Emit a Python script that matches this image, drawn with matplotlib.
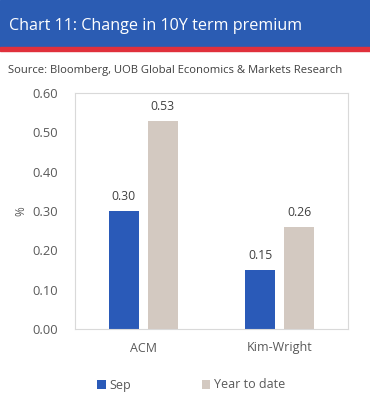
import matplotlib
matplotlib.use("Agg")
import matplotlib.pyplot as plt
from matplotlib.patches import Rectangle
import numpy as np

categories = ["ACM", "Kim-Wright"]
series_names = ["Sep", "Year to date"]
sep_values = [0.30, 0.15]
ytd_values = [0.53, 0.26]
yticks = [0.0, 0.1, 0.2, 0.3, 0.4, 0.5, 0.6]

plt.rcParams['font.family'] = ['Open Sans', 'DejaVu Sans']

W, H = 370, 396
fig = plt.figure(figsize=(W/100, H/100), dpi=100)

# Banner
fig.patches.append(Rectangle((0, 1-47/H), 1, 47/H, transform=fig.transFigure, color="#2b5cb3", zorder=0))
fig.patches.append(Rectangle((0, 1-51/H), 1, 4/H, transform=fig.transFigure, color="#e0303c", zorder=0))
fig.text(9/W, 1-26/H, "Chart 11: Change in 10Y term premium", color="white", fontsize=11.6, va="center", ha="left")
fig.text(8/W, 1-70/H, "Source: Bloomberg, UOB Global Economics & Markets Research", color="#404040", fontsize=8.1, va="center", ha="left")

ax = fig.add_axes([75/W, 1-329/H, 273/W, 236/H])
x = np.arange(len(categories))
bw = 0.22
off = 0.143
b1 = ax.bar(x-off, sep_values, bw, color="#2a5ab8", label=series_names[0])
b2 = ax.bar(x+off, ytd_values, bw, color="#d3c9c1", label=series_names[1])
for bars, vals in ((b1, sep_values), (b2, ytd_values)):
    for b, v in zip(bars, vals):
        ax.text(b.get_x()+b.get_width()/2, v+0.02, f"{v:.2f}", ha="center", va="bottom", fontsize=8.8, color="#404040")

ax.set_xlim(-0.5, 1.5)
ax.set_ylim(0, 0.6)
ax.set_yticks(yticks)
ax.set_yticklabels([f"{t:.2f}" for t in yticks])
ax.set_xticks(x)
ax.set_xticklabels(categories)
ax.tick_params(length=0, colors="#595959", labelsize=9)
ax.tick_params(axis="y", pad=12, labelsize=9.3)
ax.tick_params(axis="x", pad=9)
for s in ax.spines.values():
    s.set_color("#d9d9d9")
    s.set_linewidth(0.8)
ax.set_ylabel("%", color="#595959", fontsize=8.5, labelpad=4)

leg = fig.legend(handles=[b1, b2], labels=series_names, loc="center left", bbox_to_anchor=(86/W, 1-385/H),
                 ncol=2, frameon=False, fontsize=9, handlelength=0.7, handleheight=0.7,
                 handletextpad=0.3, columnspacing=5.6, labelcolor="#595959")

fig.savefig("out.png", dpi=100, facecolor="white")
